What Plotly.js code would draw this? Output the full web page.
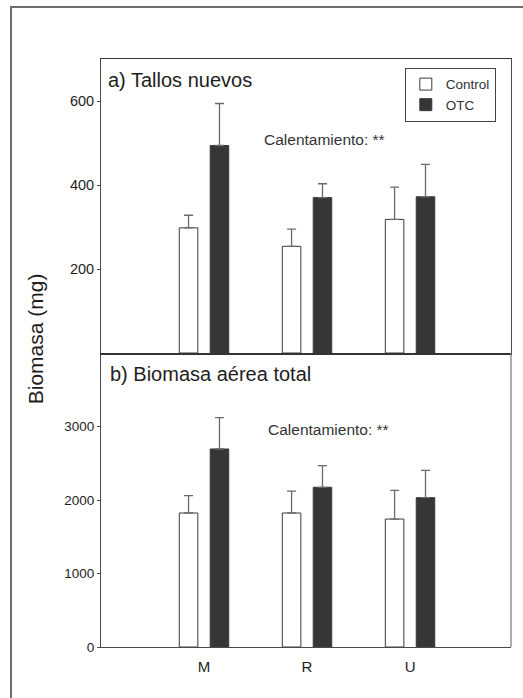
<!DOCTYPE html>
<html>
<head>
<meta charset="utf-8">
<script src="https://cdn.plot.ly/plotly-3.0.1.min.js"></script>
<style>
  html, body { margin: 0; padding: 0; background: #ffffff; }
  #wrap { position: relative; width: 523px; height: 698px; overflow: hidden; }
  #chart { position: absolute; left: 0; top: 0; width: 523px; height: 698px; }
  #frame { position: absolute; left: 10px; top: 6px; width: 600px; height: 800px;
           border-left: 2px solid #6e6e6e; border-top: 2px solid #6e6e6e; pointer-events: none; z-index: 10; }
</style>
</head>
<body>
<div id="wrap">
  <div id="chart"></div>
  <div id="frame"></div>
</div>
<script>
// Categories (sites)
const sites = ["M", "R", "U"];
const seriesNames = ["Control", "OTC"];

// a) Tallos nuevos (mg)
const tallosControl = [298, 254, 318];
const tallosControlErr = [30, 41, 77];
const tallosOTC = [494, 370, 372];
const tallosOTCErr = [100, 33, 77];

// b) Biomasa aérea total (mg)
const biomasaControl = [1823, 1823, 1741];
const biomasaControlErr = [237, 299, 389];
const biomasaOTC = [2694, 2173, 2032];
const biomasaOTCErr = [427, 295, 372];

// Texts
const panelATitle = "a) Tallos nuevos";
const panelBTitle = "b) Biomasa aérea total";
const signifText = "Calentamiento: **";
const yTitle = "Biomasa (mg)";
const tickValsA = [200, 400, 600];
const tickValsB = [0, 1000, 2000, 3000];

const FONT = "Liberation Sans, Arial, Helvetica, sans-serif";
const controlFill = "#ffffff";
const otcFill = "#363636";
const outline = "#3a3a3a";
const errColor = "#6a6a6a";

function barTrace(name, y, err, fill, xa, ya, showlegend) {
  return {
    type: "bar", name: name, x: sites, y: y,
    xaxis: xa, yaxis: ya, showlegend: showlegend, legendgroup: name,
    marker: { color: fill, line: { color: outline, width: 1 } },
    error_y: { type: "data", array: err, arrayminus: err.map(() => 0), symmetric: false,
               color: errColor, thickness: 1.3, width: 4.5 }
  };
}

const data = [
  barTrace(seriesNames[0], tallosControl, tallosControlErr, controlFill, "x2", "y2", true),
  barTrace(seriesNames[1], tallosOTC, tallosOTCErr, otcFill, "x2", "y2", true),
  barTrace(seriesNames[0], biomasaControl, biomasaControlErr, controlFill, "x", "y", false),
  barTrace(seriesNames[1], biomasaOTC, biomasaOTCErr, otcFill, "x", "y", false)
];

const axisLine = "#4a4a4a";

const layout = {
  width: 523, height: 698,
  margin: { l: 101, r: 12, t: 59, b: 51, pad: 0 },
  paper_bgcolor: "rgba(0,0,0,0)",
  plot_bgcolor: "#ffffff",
  barmode: "group", bargap: 0.4, bargroupgap: 0.4,
  font: { family: FONT, color: "#1e1e1e" },
  showlegend: true,
  legend: {
    x: 0.741, xanchor: "left", y: 0.985, yanchor: "top",
    bgcolor: "#ffffff", bordercolor: "#444444", borderwidth: 1,
    font: { family: FONT, size: 13.5, color: "#333333" },
    tracegroupgap: 0, itemwidth: 30
  },
  xaxis: {
    type: "category", range: [-1, 2.98], domain: [0, 1], anchor: "y",
    showline: true, linecolor: axisLine, linewidth: 1.2, mirror: false,
    ticks: "", showgrid: false, zeroline: false, ticklabelstandoff: 6,
    tickfont: { family: FONT, size: 15, color: "#1e1e1e" }
  },
  yaxis: {
    domain: [0, 0.5], range: [0, 4000], anchor: "x",
    tickvals: tickValsB, ticktext: tickValsB.map(String),
    ticks: "outside", ticklen: 3, tickcolor: axisLine,
    showline: true, linecolor: axisLine, linewidth: 1,
    showgrid: false, zeroline: false,
    tickfont: { family: FONT, size: 13.5, color: "#1e1e1e" }
  },
  xaxis2: {
    type: "category", matches: "x", domain: [0, 1], anchor: "y2",
    showline: true, linecolor: "#333333", linewidth: 1.5, mirror: true,
    showticklabels: false, ticks: "", showgrid: false, zeroline: false
  },
  yaxis2: {
    domain: [0.5, 1], range: [0, 700], anchor: "x2",
    tickvals: tickValsA, ticktext: tickValsA.map(String),
    ticks: "outside", ticklen: 3, tickcolor: axisLine,
    showline: true, linecolor: axisLine, linewidth: 1, mirror: true,
    showgrid: false, zeroline: false,
    tickfont: { family: FONT, size: 14.5, color: "#1e1e1e" }
  },
  shapes: [
    { type: "line", xref: "paper", yref: "paper", x0: 1, x1: 1, y0: 0, y1: 0.5,
      line: { color: "#777777", width: 1.2 } }
  ],
  annotations: [
    { text: panelATitle, xref: "paper", yref: "paper", x: 0.012, y: 0.964,
      xanchor: "left", yanchor: "middle", showarrow: false,
      font: { family: FONT, size: 20, color: "#1e1e1e" } },
    { text: panelBTitle, xref: "paper", yref: "paper", x: 0.017, y: 0.464,
      xanchor: "left", yanchor: "middle", showarrow: false,
      font: { family: FONT, size: 20, color: "#1e1e1e" } },
    { text: signifText, xref: "paper", yref: "paper", x: 0.545, y: 0.863,
      xanchor: "center", yanchor: "middle", showarrow: false,
      font: { family: FONT, size: 15.5, color: "#333333" } },
    { text: signifText, xref: "paper", yref: "paper", x: 0.555, y: 0.370,
      xanchor: "center", yanchor: "middle", showarrow: false,
      font: { family: FONT, size: 15.5, color: "#333333" } },
    { text: yTitle, xref: "paper", yref: "paper", x: -0.161, y: 0.525,
      xanchor: "center", yanchor: "middle", showarrow: false, textangle: -90,
      font: { family: FONT, size: 21, color: "#1e1e1e" } }
  ]
};

Plotly.newPlot("chart", data, layout, { staticPlot: true, displayModeBar: false });
</script>
</body>
</html>
